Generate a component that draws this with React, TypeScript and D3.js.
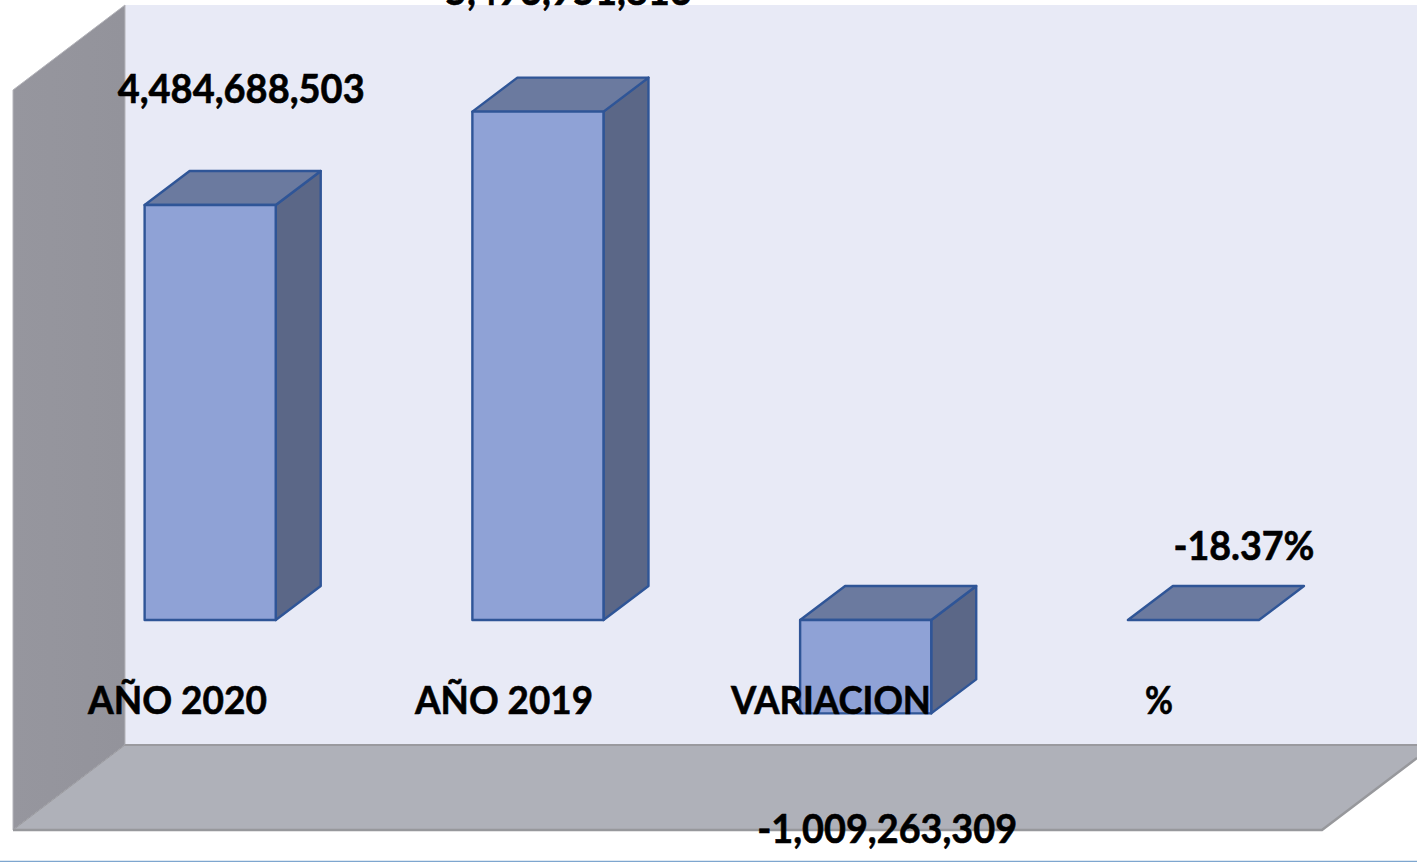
import React from "react";
import * as d3 from "d3";

const categories = ["AÑO 2020", "AÑO 2019", "VARIACION", "%"];
const values = [4484688503, 5493951813, -1009263309, -0.1837];
const valueLabels = ["4,484,688,503", "5,493,951,813", "-1,009,263,309", "-18.37%"];

const W = 1417, H = 862;
const DX = 45, DY = -34;
const labelDx = [31, 30.5, 21.5, 50.5];
const labelY = [103, 5, 843, 560];
const catX = [177.5, 504, 831, 1159];
const catW = [179, 178, 200, 28];
const valW = [247, 247, 260, 141];
const FONT = "Lato, Carlito, 'Open Sans', sans-serif";

const x = d3.scaleBand<string>().domain(categories).range([46.3, 1357.3]).paddingInner(0.6).paddingOuter(0.3);
const y = d3.scaleLinear().domain([0, 5493951813]).range([620, 111.6]);

const poly = (pts: [number, number][]) => d3.line()(pts)! + "Z";

export default function App() {
  return (
    <svg width={W} height={H} viewBox={`0 0 ${W} ${H}`}
      style={{ position: "fixed", left: 0, top: 0, background: "#fff", display: "block" }}>
      <defs>
        <linearGradient id="lw" x1="0" y1="0" x2="1" y2="0">
          <stop offset="0" stopColor="#96969e" />
          <stop offset="1" stopColor="#93939b" />
        </linearGradient>
      </defs>
      <path d={poly([[125, 5], [1417, 5], [1417, 745], [125, 745]])} fill="#e8eaf6" />
      <path d={poly([[13, 90], [125, 5], [125, 745], [13, 830]])} fill="url(#lw)" stroke="#b4b4ba" strokeWidth={1} />
      <path d={poly([[13, 830], [125, 745], [1417, 745], [1417, 758], [1322, 830]])} fill="#afb1b9" />
      <path d="M125,745H1417" stroke="#9a9a9f" strokeWidth={2} fill="none" />
      <path d="M13,830H1322L1417,758" stroke="#97989c" strokeWidth={2.5} fill="none" />
      <path d="M13,830L125,745" stroke="#9a9a9f" strokeWidth={1} fill="none" />
      <path d="M0,861.5H1417" stroke="#7ea6cf" strokeWidth={1.5} fill="none" />

      {categories.map((c, i) => {
        const x0 = x(c)!, bw = x.bandwidth(), x1 = x0 + bw;
        const y0 = y(0), yv = y(values[i]);
        const top = values[i] >= 0 ? yv : y0;
        const bot = values[i] >= 0 ? y0 : yv;
        const flat = Math.abs(bot - top) < 1;
        return (
          <g key={c} stroke="#2f5597" strokeWidth={2.4} strokeLinejoin="round">
            {!flat && (
              <path d={poly([[x1, top], [x1 + DX, top + DY], [x1 + DX, bot + DY], [x1, bot]])} fill="#5b6787" />
            )}
            <path d={poly([[x0, top], [x0 + DX, top + DY], [x1 + DX, top + DY], [x1, top]])} fill="#6b7a9f" />
            {!flat && <rect x={x0} y={top} width={bw} height={bot - top} fill="#8fa2d6" />}
          </g>
        );
      })}

      {categories.map((c, i) => (
        <text key={c} x={catX[i]} y={714} textAnchor="middle" textLength={catW[i]} lengthAdjust="spacingAndGlyphs"
          fontFamily={FONT} fontWeight={700} fontSize={39} fill="#000" stroke="#000" strokeWidth={0.6}>{c}</text>
      ))}
      {valueLabels.map((t, i) => (
        <text key={t} x={x(categories[i])! + x.bandwidth() / 2 + labelDx[i]} y={labelY[i]} textAnchor="middle"
          textLength={valW[i]} lengthAdjust="spacingAndGlyphs"
          fontFamily={FONT} fontWeight={700} fontSize={40} fill="#000" stroke="#000" strokeWidth={0.6}>{t}</text>
      ))}
    </svg>
  );
}
